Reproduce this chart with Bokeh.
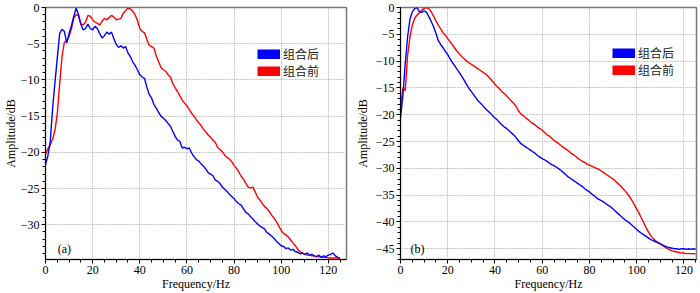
from bokeh.plotting import figure
from bokeh.layouts import row
from bokeh.models import Range1d, Legend, LegendItem, Label, SingleIntervalTicker
from bokeh.embed import file_html
from bokeh.resources import INLINE

# ---------------- data ----------------
freq_a = list(range(0, 126))
after_a = [-21.7, -20.5, -18.6, -14.0, -10.4, -7.0, -3.6, -3.0, -3.3, -4.9,
           -3.6, -2.5, -1.2, -0.1, -1.0, -2.3, -3.1, -2.9, -2.3, -2.9,
           -3.1, -2.6, -2.9, -3.6, -4.2, -3.9, -3.4, -3.7, -3.4, -4.3,
           -5.1, -5.5, -5.3, -5.6, -5.4, -6.3, -6.8, -7.5, -8.0, -8.6,
           -9.3, -9.6, -9.8, -11.0, -12.0, -12.5, -13.4, -13.9, -14.5, -15.0,
           -15.3, -15.6, -16.0, -16.4, -17.1, -17.8, -18.3, -18.5, -19.4, -19.3,
           -19.5, -19.4, -20.1, -20.6, -21.0, -21.2, -21.6, -21.9, -22.3, -22.8,
           -23.0, -23.2, -23.8, -24.0, -24.3, -24.8, -25.1, -25.4, -25.8, -26.1,
           -26.4, -26.8, -27.1, -27.3, -27.8, -28.3, -28.5, -28.9, -29.2, -29.6,
           -29.9, -30.2, -30.4, -30.6, -31.1, -31.3, -31.6, -31.9, -32.3, -32.6,
           -32.9, -33.0, -33.3, -33.2, -33.5, -33.4, -33.7, -33.8, -34.0, -33.9,
           -34.1, -33.9, -34.2, -34.1, -34.3, -34.4, -34.2, -34.5, -34.3, -34.4,
           -34.2, -34.1, -33.9, -34.3, -34.5, -34.6]
before_a = [-20.3, -19.5, -19.0, -18.2, -17.0, -14.7, -10.6, -6.8, -4.8, -4.6,
            -4.0, -2.9, -1.5, -1.0, -1.1, -2.3, -2.4, -2.0, -1.1, -1.2,
            -1.7, -2.0, -2.2, -2.4, -1.9, -1.5, -1.7, -1.4, -1.1, -1.3,
            -1.7, -1.6, -1.5, -0.8, -0.4, -0.1, -0.2, -0.5, -1.0, -1.8,
            -2.9, -3.3, -3.5, -4.4, -5.2, -5.4, -5.6, -6.7, -7.5, -8.3,
            -8.6, -8.8, -9.3, -9.6, -10.5, -11.1, -11.6, -12.2, -12.8, -13.2,
            -13.6, -14.1, -14.6, -15.0, -15.5, -15.9, -16.3, -16.8, -17.2, -17.6,
            -17.9, -18.3, -18.6, -19.3, -19.6, -19.9, -20.4, -20.7, -20.9, -21.3,
            -21.8, -22.2, -22.7, -23.3, -23.7, -24.3, -24.8, -24.9, -24.8, -25.5,
            -26.2, -26.6, -27.1, -27.5, -27.8, -28.2, -28.7, -29.1, -29.6, -30.2,
            -30.8, -31.2, -31.4, -31.7, -32.1, -32.5, -32.9, -33.4, -33.7, -33.9,
            -34.1, -34.2, -34.2, -34.3, -34.3, -34.4, -34.4, -34.5, -34.5, -34.5,
            -34.6, -34.6, -34.6, -34.6, -34.6, -34.7]

freq_b = list(range(0, 126))
after_b = [-20.7, -16.5, -10.5, -5.5, -2.2, -0.8, -0.2, 0.0, -0.8, -0.9,
           -0.6, -0.9, -1.7, -2.6, -3.6, -4.8, -6.2, -6.9, -7.5, -8.2,
           -8.8, -9.6, -10.3, -10.9, -11.6, -12.2, -12.9, -13.6, -14.4, -15.1,
           -15.7, -16.3, -16.9, -17.5, -17.9, -18.4, -18.9, -19.3, -19.7, -20.2,
           -20.6, -21.0, -21.5, -21.9, -22.3, -22.6, -23.0, -23.4, -23.8, -24.3,
           -24.9, -25.4, -25.7, -26.0, -26.3, -26.6, -26.9, -27.2, -27.6, -27.9,
           -28.2, -28.4, -28.7, -29.0, -29.3, -29.5, -29.8, -30.1, -30.4, -30.8,
           -31.2, -31.6, -31.9, -32.2, -32.5, -32.8, -33.1, -33.4, -33.8, -34.1,
           -34.4, -34.8, -35.1, -35.5, -35.8, -36.0, -36.3, -36.6, -36.9, -37.2,
           -37.6, -38.0, -38.4, -38.8, -39.2, -39.6, -39.9, -40.2, -40.6, -41.0,
           -41.4, -41.8, -42.1, -42.4, -42.7, -43.0, -43.3, -43.5, -43.7, -43.9,
           -44.1, -44.3, -44.5, -44.7, -44.8, -44.9, -45.0, -45.0, -45.1, -45.0,
           -45.0, -45.1, -45.0, -45.1, -45.0, -45.1]
before_b = [-18.8, -15.0, -15.5, -9.0, -5.5, -3.3, -2.0, -1.4, -1.0, -0.5,
            -0.2, 0.0, -0.2, -0.8, -1.6, -2.5, -3.3, -4.0, -4.7, -5.2,
            -5.8, -6.4, -7.0, -7.6, -8.2, -8.7, -9.2, -9.6, -10.0, -10.3,
            -10.6, -10.9, -11.2, -11.5, -11.8, -12.1, -12.4, -12.8, -13.3, -13.8,
            -14.3, -14.8, -15.2, -15.7, -16.1, -16.5, -17.0, -17.5, -17.9, -18.5,
            -19.3, -19.9, -20.2, -20.6, -20.9, -21.3, -21.6, -21.9, -22.3, -22.6,
            -22.9, -23.3, -23.7, -24.0, -24.4, -24.8, -25.1, -25.4, -25.8, -26.1,
            -26.4, -26.7, -27.1, -27.4, -27.7, -28.1, -28.4, -28.7, -28.9, -29.2,
            -29.4, -29.6, -29.8, -30.0, -30.2, -30.5, -30.8, -31.1, -31.4, -31.7,
            -32.0, -32.4, -32.8, -33.2, -33.7, -34.2, -34.7, -35.3, -36.0, -36.8,
            -37.6, -38.4, -39.3, -40.2, -41.1, -41.9, -42.6, -43.1, -43.5, -43.8,
            -44.1, -44.4, -44.7, -45.0, -45.2, -45.4, -45.5, -45.6, -45.7, -45.8,
            -45.8, -45.9, -45.9, -45.9, -45.9, -46.0]

series_names = ["组合后", "组合前"]
series_colors = ["#0000ff", "#ff0000"]
x_label = "Frequency/Hz"
y_label = "Amplitude/dB"
panel_tags = ["(a)", "(b)"]

SERIF = "Liberation Serif"
CJK = "Noto Sans CJK SC"


def make_panel(freq, after, before, xr, yr, tag, tag_xy, legend_xy,
               width, border_left, border_right, ylab_standoff):
    p = figure(width=width, height=293, output_backend="svg", toolbar_location=None,
               x_range=Range1d(*xr), y_range=Range1d(*yr),
               min_border_left=border_left, min_border_right=border_right,
               min_border_top=7, min_border_bottom=34)
    p.background_fill_color = "white"
    p.border_fill_color = "white"
    p.outline_line_color = "#777777"
    p.outline_line_width = 1.5

    p.xaxis.ticker = SingleIntervalTicker(interval=20, num_minor_ticks=4)
    p.yaxis.ticker = SingleIntervalTicker(interval=5, num_minor_ticks=5)
    for ax in (p.xaxis, p.yaxis):
        ax.axis_line_color = "black"
        ax.major_tick_line_color = "black"
        ax.minor_tick_line_color = "black"
        ax.major_tick_out = 4
        ax.major_tick_in = 0
        ax.minor_tick_out = 3
        ax.minor_tick_in = 0
        ax.major_label_text_font = SERIF
        ax.major_label_text_font_size = "12px"
        ax.major_label_text_color = "black"
        ax.major_label_standoff = 2
        ax.axis_label_text_font = SERIF
        ax.axis_label_text_font_size = "12px"
        ax.axis_label_text_font_style = "normal"
        ax.axis_label_text_color = "black"
    p.xaxis.axis_label = x_label
    p.yaxis.axis_label = y_label
    p.xaxis.axis_label_standoff = 0
    p.yaxis.axis_label_standoff = ylab_standoff

    p.grid.grid_line_color = "#c4c4c4"
    p.grid.grid_line_dash = "2 1"
    p.grid.grid_line_width = 1

    p.line(freq, before, line_color=series_colors[1], line_width=1.4)
    p.line(freq, after, line_color=series_colors[0], line_width=1.4)

    # hidden renderers used only to draw the solid legend swatches
    swatches = [p.line(freq, after, line_color=series_colors[0], line_width=10, visible=False),
                p.line(freq, before, line_color=series_colors[1], line_width=10, visible=False)]
    legend = Legend(items=[LegendItem(label=series_names[i], renderers=[swatches[i]])
                           for i in range(2)],
                    location=legend_xy, glyph_width=23, glyph_height=10,
                    label_height=10, spacing=0, padding=0, margin=0,
                    label_standoff=3, label_text_font=CJK,
                    label_text_font_size="12px", label_text_color="#222222",
                    border_line_color=None, background_fill_alpha=0,
                    click_policy="none")
    p.add_layout(legend, "center")

    p.add_layout(Label(x=tag_xy[0], y=tag_xy[1], text=tag, text_font=SERIF,
                       text_font_size="12px", text_color="black",
                       text_baseline="middle"))
    return p


pa = make_panel(freq_a, after_a, before_a, (0, 127.7), (-34.8, 0), panel_tags[0],
                (5.2, -33.3), (212, 180), width=350, border_left=44,
                border_right=4, ylab_standoff=0)
pb = make_panel(freq_b, after_b, before_b, (0, 125.3), (-47, 0), panel_tags[1],
                (4.2, -45.0), (212, 181), width=350, border_left=50,
                border_right=4, ylab_standoff=3)

layout = row(pa, pb)
open("out.html", "w").write(file_html(layout, INLINE))
